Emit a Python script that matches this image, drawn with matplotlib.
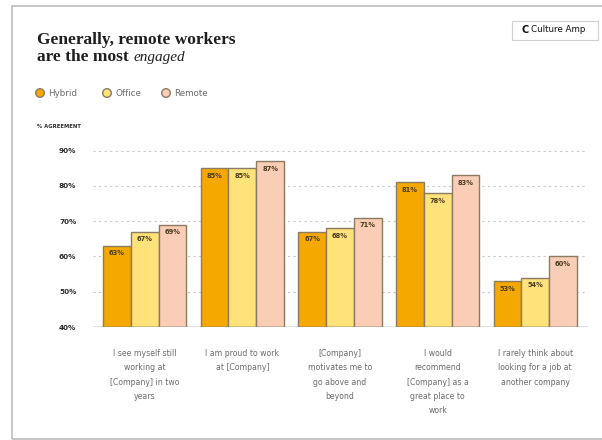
import matplotlib
matplotlib.use("Agg")
import matplotlib.pyplot as plt
from matplotlib.patches import Rectangle, Ellipse
import numpy as np

categories = [
    "I see myself still\nworking at\n[Company] in two\nyears",
    "I am proud to work\nat [Company]",
    "[Company]\nmotivates me to\ngo above and\nbeyond",
    "I would\nrecommend\n[Company] as a\ngreat place to\nwork",
    "I rarely think about\nlooking for a job at\nanother company",
]
series_names = ["Hybrid", "Office", "Remote"]
hybrid = [63, 85, 67, 81, 53]
office = [67, 85, 68, 78, 54]
remote = [69, 87, 71, 83, 60]
y_ticks = [40, 50, 60, 70, 80, 90]

colors = ["#F5A900", "#FFE27A", "#F9CDB6"]
edge = "#8C7B62"
text_dark = "#2B2B2B"
text_gray = "#6B6B6B"

W, H = 602, 440
fig = plt.figure(figsize=(W / 100, H / 100), dpi=100)
fig.patch.set_facecolor("white")

# card border
fig.add_artist(Rectangle((12 / W, 1 / H), 1.2, 433 / H, transform=fig.transFigure,
                         facecolor="none", edgecolor="#BDBDBD", linewidth=1.2))

ax = fig.add_axes([93 / W, 1 - 327 / H, (588 - 93) / W, (327 - 140) / H])

x = np.arange(len(categories))
w = 0.285
for i, (vals, col) in enumerate(zip([hybrid, office, remote], colors)):
    pos = x + (i - 1) * w
    ax.bar(pos, [v - 40 for v in vals], bottom=40, width=w, color=col,
           edgecolor=edge, linewidth=1.0, zorder=3)
    for xp, v in zip(pos, vals):
        ax.text(xp, v - 1.3, f"{v}%", ha="center", va="top", fontsize=4.8,
                fontweight="bold", color="#4A3A20", zorder=4)

ax.set_ylim(40, 93)
ax.set_xlim(-0.53, 4.54)
ax.set_yticks(y_ticks)
ax.set_yticklabels([f"{t}%" for t in y_ticks], fontsize=5.2, fontweight="bold", color=text_dark)
for t in y_ticks[1:]:
    ax.axhline(t, color="#C8C8C8", linestyle=(0, (2, 3)), linewidth=0.8, zorder=1)
ax.axhline(40, color="#7A7A7A", linewidth=1.0, zorder=4)
ax.tick_params(axis="y", length=0, pad=12)
ax.set_xticks(x)
ax.set_xticklabels(categories, fontsize=5.6, color=text_gray, linespacing=1.75)
ax.tick_params(axis="x", length=0, pad=16)
for s in ax.spines.values():
    s.set_visible(False)

# title
fig.text(37 / W, 1 - 40 / H, "Generally, remote workers", fontsize=12.5,
         fontweight="bold", family="Liberation Serif", color="#1E1E1E", va="center")
t2 = fig.text(37 / W, 1 - 57 / H, "are the most ", fontsize=12.5,
              fontweight="bold", family="Liberation Serif", color="#1E1E1E", va="center")
fig.canvas.draw()
bb = t2.get_window_extent()
fig.text(bb.x1 / W, 1 - 57 / H, "engaged", fontsize=11, style="italic",
         family="Liberation Serif", color="#1E1E1E", va="center")

# legend
leg_x = [40, 107, 166]
for lx, name, col in zip(leg_x, series_names, colors):
    fig.add_artist(Ellipse((lx / W, 1 - 93 / H), 8.6 / W, 8.6 / H,
                           transform=fig.transFigure, facecolor=col, edgecolor=edge,
                           linewidth=1.0))
    fig.text((lx + 8) / W, 1 - 93 / H, name, fontsize=6.3, color=text_gray, va="center")

fig.text(37 / W, 1 - 127 / H, "% AGREEMENT", fontsize=3.8, fontweight="bold",
         color=text_dark, va="center")

# logo box
fig.add_artist(Rectangle((512 / W, 1 - 40 / H), 86 / W, 19 / H, transform=fig.transFigure,
                         facecolor="white", edgecolor="#D0D0D0", linewidth=0.8))
fig.text(522 / W, 1 - 30 / H, "C", fontsize=7, fontweight="bold", color="#111111", va="center")
fig.text(531 / W, 1 - 30 / H, "Culture Amp", fontsize=6.3, color="#111111", va="center")

fig.savefig("out.png", dpi=100)
